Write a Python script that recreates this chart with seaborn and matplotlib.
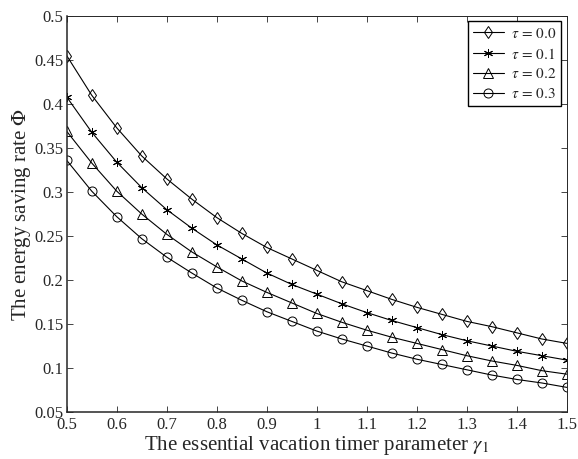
import pandas as pd
import matplotlib
matplotlib.use('Agg')
import matplotlib.pyplot as plt
import seaborn as sns

# gamma_1 values where the markers sit
gamma1 = [0.50, 0.55, 0.60, 0.65, 0.70, 0.75, 0.80, 0.85, 0.90, 0.95, 1.00,
          1.05, 1.10, 1.15, 1.20, 1.25, 1.30, 1.35, 1.40, 1.45, 1.50]

# energy saving rate for each tau
phi_tau00 = [0.455, 0.410, 0.373, 0.341, 0.315, 0.292, 0.271, 0.253, 0.237, 0.224, 0.211,
             0.198, 0.188, 0.178, 0.169, 0.161, 0.153, 0.147, 0.140, 0.133, 0.128]
phi_tau01 = [0.408, 0.368, 0.334, 0.305, 0.280, 0.259, 0.240, 0.224, 0.208, 0.195, 0.184,
             0.173, 0.163, 0.154, 0.146, 0.138, 0.131, 0.125, 0.119, 0.114, 0.109]
phi_tau02 = [0.369, 0.333, 0.301, 0.275, 0.252, 0.232, 0.215, 0.199, 0.186, 0.174, 0.162,
             0.152, 0.143, 0.135, 0.128, 0.121, 0.114, 0.108, 0.103, 0.097, 0.093]
phi_tau03 = [0.336, 0.301, 0.272, 0.247, 0.226, 0.208, 0.191, 0.177, 0.164, 0.153, 0.142,
             0.133, 0.125, 0.117, 0.110, 0.104, 0.098, 0.092, 0.087, 0.083, 0.078]

tau_labels = [r'$\tau\,=\,0.0$', r'$\tau\,=\,0.1$', r'$\tau\,=\,0.2$', r'$\tau\,=\,0.3$']
series = [phi_tau00, phi_tau01, phi_tau02, phi_tau03]
marker_list = ['d', (6, 2, 0), '^', 'o']

x_ticks = [0.5, 0.6, 0.7, 0.8, 0.9, 1, 1.1, 1.2, 1.3, 1.4, 1.5]
x_ticklabels = ['0.5', '0.6', '0.7', '0.8', '0.9', '1', '1.1', '1.2', '1.3', '1.4', '1.5']
y_ticks = [0.05, 0.1, 0.15, 0.2, 0.25, 0.3, 0.35, 0.4, 0.45, 0.5]
y_ticklabels = ['0.05', '0.1', '0.15', '0.2', '0.25', '0.3', '0.35', '0.4', '0.45', '0.5']

sns.set_style('ticks')
plt.rcParams['font.family'] = ['Liberation Serif', 'DejaVu Serif']
plt.rcParams['mathtext.fontset'] = 'stix'

fig = plt.figure(figsize=(5.78, 4.59), dpi=100)
ax = fig.add_axes([0.1154, 0.1024, 0.8651, 0.8627])

for lab, vals, mk in zip(tau_labels, series, marker_list):
    d = pd.DataFrame({'gamma1': gamma1, 'phi': vals})
    sns.lineplot(data=d, x='gamma1', y='phi', color='black', marker=mk,
                 linewidth=0.8, markersize=6.5, markerfacecolor='none',
                 markeredgecolor='black', markeredgewidth=0.7,
                 label=lab, ax=ax)

leg = ax.legend(loc='upper right', fontsize=11,
                frameon=True, fancybox=False, framealpha=1,
                edgecolor='black', handlelength=2.0, handletextpad=0.45,
                borderpad=0.35, labelspacing=0.38, borderaxespad=0.35)
leg.get_frame().set_linewidth(1.0)

ax.set_xlim(0.5, 1.5)
ax.set_ylim(0.05, 0.5)
ax.set_xticks(x_ticks)
ax.set_xticklabels(x_ticklabels)
ax.set_yticks(y_ticks)
ax.set_yticklabels(y_ticklabels)
ax.tick_params(direction='in', length=4, width=0.6, labelsize=12,
               top=True, right=True)
ax.tick_params(axis='x', pad=3.5)
ax.tick_params(axis='y', pad=2.5)

for side in ['left', 'bottom']:
    ax.spines[side].set_linewidth(1.1)
for side in ['top', 'right']:
    ax.spines[side].set_linewidth(0.7)

ax.set_xlabel(r'The essential vacation timer parameter $\gamma_1$', fontsize=15, labelpad=1)
ax.set_ylabel(r'The energy saving rate $\mathrm{\Phi}$', fontsize=15, labelpad=1)

fig.savefig('out.png', dpi=100)
